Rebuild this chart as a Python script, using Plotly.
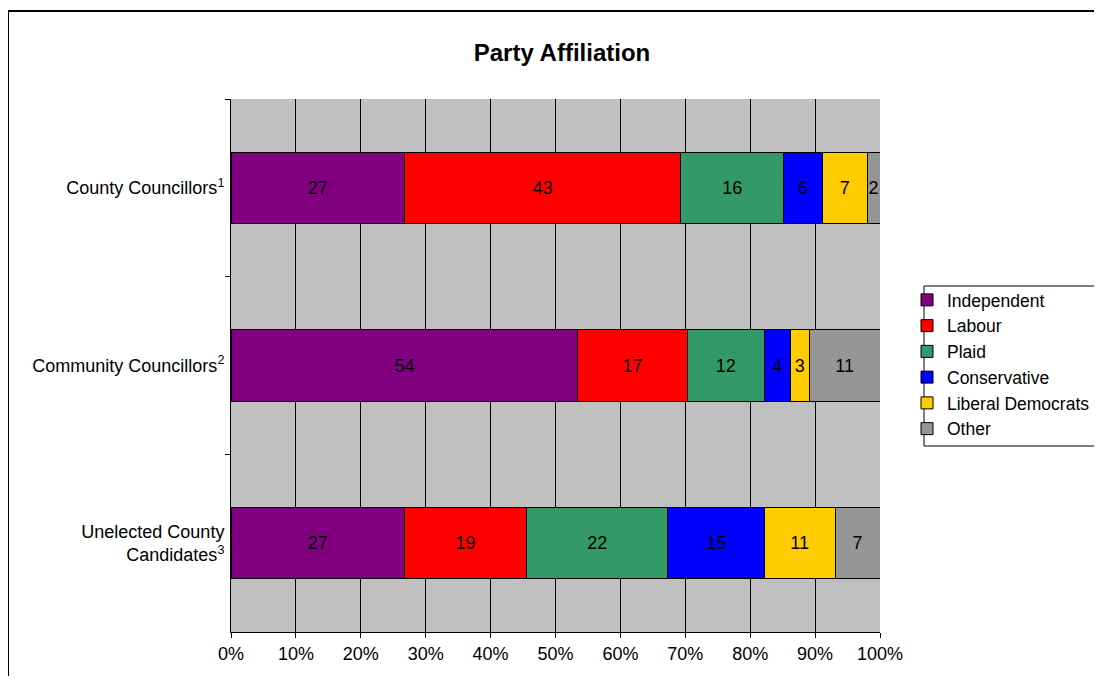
import plotly.graph_objects as go

categories = ["County Councillors<sup>1</sup>", "Community Councillors<sup>2</sup>",
              "Unelected County<br>Candidates<sup>3</sup>"]
parties = ["Independent", "Labour", "Plaid", "Conservative", "Liberal Democrats", "Other"]
independent = [27, 54, 27]
labour = [43, 17, 19]
plaid = [16, 12, 22]
conservative = [6, 4, 15]
libdem = [7, 3, 11]
other = [2, 11, 7]
colors = ["#800080", "#FF0000", "#339966", "#0000FF", "#FFCC00", "#969696"]
series = [independent, labour, plaid, conservative, libdem, other]

OFF = 8  # page body offset
W, H = 1102 - 2 * OFF, 684 - 2 * OFF
L, T = 231 - OFF, 99 - OFF
pw, ph = 649, 533
R = W - L - pw
B = H - T - ph


def px(x):
    return (x - OFF - L) / pw


def py(y):
    return (T + ph - (y - OFF)) / ph


fig = go.Figure()
for name, vals, col in zip(parties, series, colors):
    fig.add_trace(go.Bar(
        y=categories, x=vals, name=name, orientation="h",
        marker=dict(color=col, line=dict(color="black", width=1)),
        text=[str(v) for v in vals], textposition="inside",
        insidetextanchor="middle", textangle=0, constraintext="none",
        textfont=dict(family="Arial, Liberation Sans", size=18, color="black"),
        width=0.4,
    ))

fig.update_layout(
    barmode="stack", barnorm="percent",
    width=W, height=H,
    margin=dict(l=L, r=R, t=T, b=B, pad=0, autoexpand=False),
    paper_bgcolor="white", plot_bgcolor="#C0C0C0",
    font=dict(family="Arial, Liberation Sans", size=18, color="black"),
    title=dict(text="<b>Party Affiliation</b>", font=dict(size=24, color="black"),
               x=px(562), xref="paper", xanchor="center",
               y=1 - (53 - OFF) / H, yref="container", yanchor="middle"),
    xaxis=dict(range=[0, 100], dtick=10, ticksuffix="%", showgrid=True,
               gridcolor="black", gridwidth=1, showline=True, linecolor="black",
               linewidth=1, ticks="outside", ticklen=5, tickcolor="black",
               zeroline=False, fixedrange=True),
    yaxis=dict(autorange=False, range=[2.5, -0.5], tickson="boundaries",
               ticks="outside", ticklen=5, tickcolor="black", showline=True,
               linecolor="black", linewidth=1, showgrid=False, ticklabelstandoff=2),
    legend=dict(x=px(907), y=py(282), xanchor="left", yanchor="top",
                bgcolor="rgba(0,0,0,0)", borderwidth=0,
                font=dict(size=17.5), traceorder="normal", itemclick=False),
    showlegend=True,
)

# outer chart border
fig.add_shape(type="rect", xref="paper", yref="paper",
              x0=px(8), x1=px(1102 + 40), y0=py(684 + 40), y1=py(11),
              line=dict(color="black", width=2), fillcolor="rgba(0,0,0,0)", layer="below")
# legend box
fig.add_shape(type="rect", xref="paper", yref="paper",
              x0=px(924), x1=px(1102 + 40), y0=py(446), y1=py(286),
              line=dict(color="black", width=1), fillcolor="white", layer="below")

fig.write_html("out.html")
